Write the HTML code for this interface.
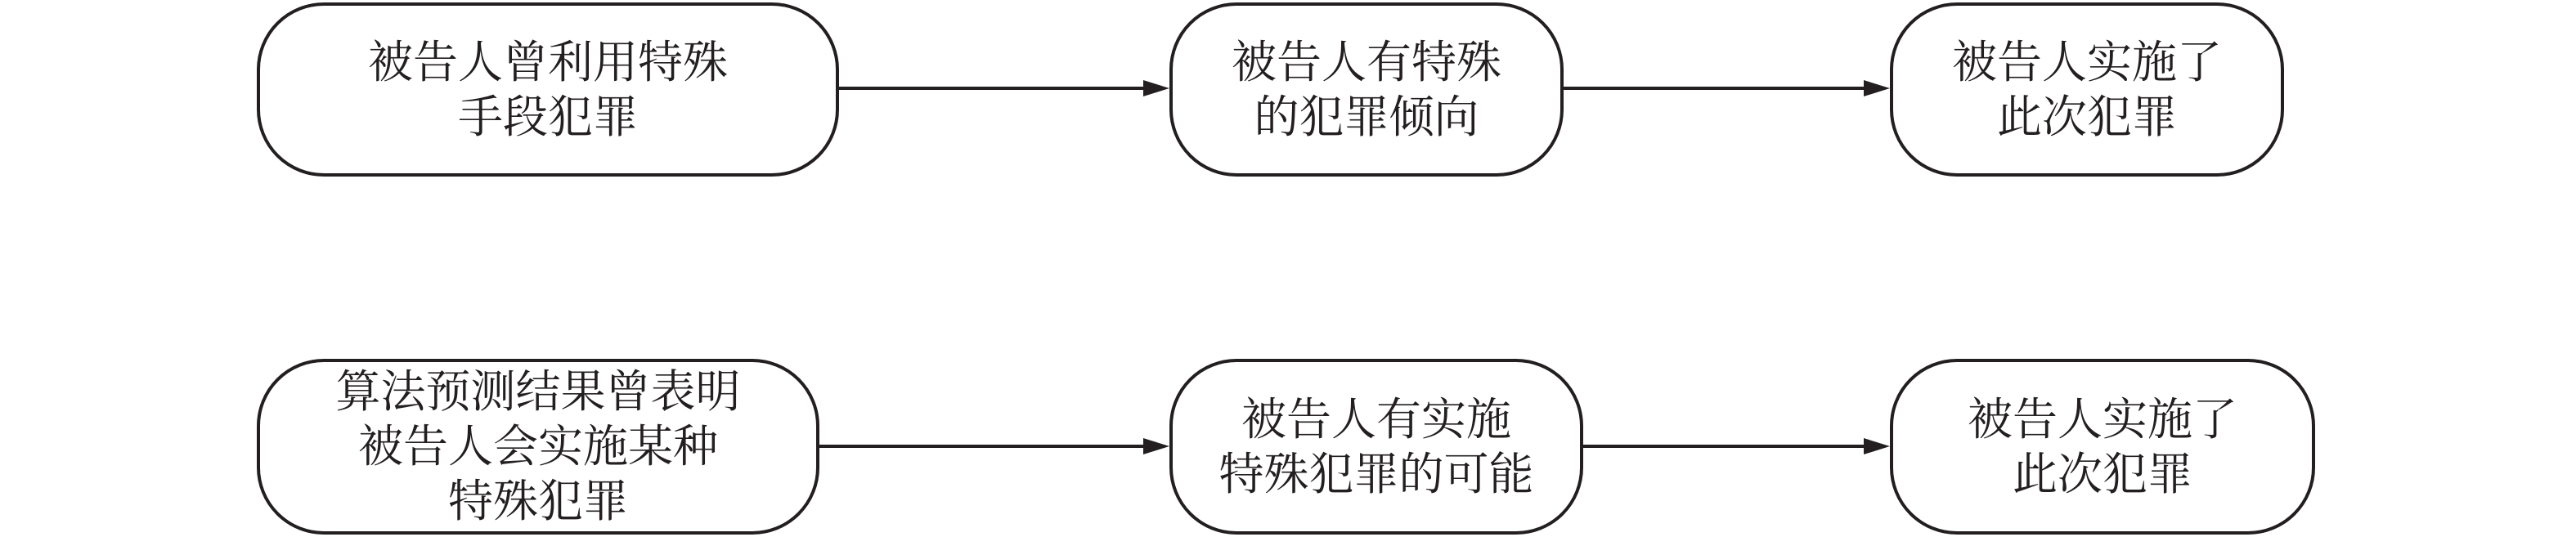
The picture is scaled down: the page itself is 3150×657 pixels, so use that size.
<!DOCTYPE html>
<html><head><meta charset="utf-8"><style>
html,body{margin:0;padding:0;background:#fff;}
body{width:3150px;height:657px;position:relative;overflow:hidden;}
.b{position:absolute;box-sizing:border-box;border:4px solid #231f20;border-radius:82px;display:flex;align-items:center;justify-content:center;text-align:center;font-family:"Liberation Serif","Noto Serif CJK SC",serif;font-size:55px;line-height:67px;color:#231f20;}
svg{position:absolute;left:0;top:0;}
</style></head><body>
<svg width="3150" height="657">
<g stroke="#231f20" stroke-width="4">
<line x1="1026" y1="108" x2="1400" y2="108"/>
<line x1="1912" y1="108" x2="2280" y2="108"/>
<line x1="1002" y1="546" x2="1400" y2="546"/>
<line x1="1936" y1="546" x2="2280" y2="546"/>
</g>
<g fill="#231f20">
<polygon points="1430,108 1398,98 1398,118"/>
<polygon points="2311,108 2279,98 2279,118"/>
<polygon points="1430,546 1398,536 1398,556"/>
<polygon points="2311,546 2279,536 2279,556"/>
</g>
</svg>
<div class="b" style="left:314px;top:3px;width:712px;height:213px;">被告人曾利用特殊<br>手段犯罪</div>
<div class="b" style="left:1430px;top:3px;width:482px;height:213px;">被告人有特殊<br>的犯罪倾向</div>
<div class="b" style="left:2311px;top:3px;width:482px;height:213px;">被告人实施了<br>此次犯罪</div>
<div class="b" style="left:314px;top:439px;width:688px;height:215px;">算法预测结果曾表明<br>被告人会实施某种<br>特殊犯罪</div>
<div class="b" style="left:1430px;top:439px;width:506px;height:215px;">被告人有实施<br>特殊犯罪的可能</div>
<div class="b" style="left:2311px;top:439px;width:520px;height:215px;">被告人实施了<br>此次犯罪</div>
</body></html>
